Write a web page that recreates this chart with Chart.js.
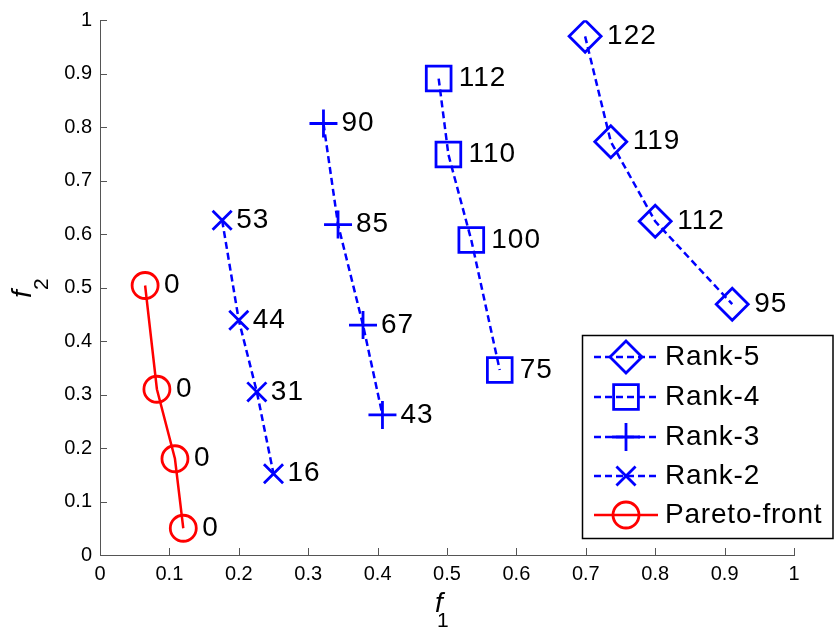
<!DOCTYPE html>
<html>
<head>
<meta charset="utf-8">
<script src="https://cdn.jsdelivr.net/npm/chart.js@4/dist/chart.umd.min.js"></script>
<style>
  html, body { margin: 0; padding: 0; background: #fff; }
  #wrap { width: 834px; height: 632px; }
</style>
</head>
<body>
<div id="wrap"><canvas id="chart" width="834" height="632"></canvas></div>
<script>
// Data
const paretoF1 = [0.065, 0.082, 0.108, 0.120]
const paretoF2 = [0.504, 0.310, 0.180, 0.050]
const paretoTxt = ['0', '0', '0', '0']

const rank2F1 = [0.176, 0.200, 0.226, 0.250]
const rank2F2 = [0.626, 0.439, 0.305, 0.152]
const rank2Txt = ['53', '44', '31', '16']

const rank3F1 = [0.322, 0.343, 0.379, 0.407]
const rank3F2 = [0.807, 0.618, 0.430, 0.262]
const rank3Txt = ['90', '85', '67', '43']

const rank4F1 = [0.488, 0.502, 0.535, 0.576]
const rank4F2 = [0.891, 0.749, 0.589, 0.346]
const rank4Txt = ['112', '110', '100', '75']

const rank5F1 = [0.699, 0.736, 0.800, 0.911]
const rank5F2 = [0.970, 0.773, 0.624, 0.469]
const rank5Txt = ['122', '119', '112', '95']

const tickValues = [0, 0.1, 0.2, 0.3, 0.4, 0.5, 0.6, 0.7, 0.8, 0.9, 1]

const FONT = '"Liberation Sans", Arial, Helvetica, sans-serif'
const BLUE = '#0000ff'
const RED = '#ff0000'
const AXIS = '#555'

function toPoints(xs, ys) {
  return xs.map((x, i) => ({ x: x, y: ys[i] }))
}

function series(label, xs, ys, txt, style, radius, color, dashed, gap) {
  return {
    label: label,
    data: toPoints(xs, ys),
    pointText: txt,
    labelGap: gap,
    showLine: true,
    borderColor: color,
    backgroundColor: 'rgba(0,0,0,0)',
    borderWidth: 2.5,
    borderDash: dashed ? [7, 4] : [],
    pointStyle: style,
    pointRadius: radius,
    pointBorderWidth: 2.8,
    pointBorderColor: color,
    pointBackgroundColor: 'rgba(0,0,0,0)',
  }
}

const datasets = [
  series('Rank-5', rank5F1, rank5F2, rank5Txt, 'rectRot', 16, BLUE, true, 22),
  series('Rank-4', rank4F1, rank4F2, rank4Txt, 'rect', 17.5, BLUE, true, 20),
  series('Rank-3', rank3F1, rank3F2, rank3Txt, 'cross', 14, BLUE, true, 18),
  series('Rank-2', rank2F1, rank2F2, rank2Txt, 'crossRot', 13.5, BLUE, true, 14),
  series('Pareto-front', paretoF1, paretoF2, paretoTxt, 'circle', 13, RED, false, 19),
]

// number labels next to every point
const pointTextPlugin = {
  id: 'pointText',
  afterDatasetsDraw(chart) {
    const ctx = chart.ctx
    ctx.save()
    ctx.font = '28px ' + FONT
    ctx.letterSpacing = '1px'
    ctx.fillStyle = '#000'
    ctx.textAlign = 'left'
    ctx.textBaseline = 'middle'
    chart.data.datasets.forEach((ds, di) => {
      const meta = chart.getDatasetMeta(di)
      meta.data.forEach((pt, i) => {
        ctx.fillText(ds.pointText[i], pt.x + ds.labelGap, pt.y)
      })
    })
    ctx.restore()
  }
}

// inward tick marks, axis titles and the boxed legend
const decorPlugin = {
  id: 'decor',
  afterDraw(chart) {
    const ctx = chart.ctx
    const xs = chart.scales.x
    const ys = chart.scales.y
    const area = chart.chartArea
    ctx.save()
    ctx.strokeStyle = AXIS
    ctx.lineWidth = 1
    tickValues.forEach(v => {
      const px = Math.round(xs.getPixelForValue(v)) + 0.5
      ctx.beginPath()
      ctx.moveTo(px, area.bottom)
      ctx.lineTo(px, area.bottom - 7)
      ctx.stroke()
      const py = Math.round(ys.getPixelForValue(v)) + 0.5
      ctx.beginPath()
      ctx.moveTo(area.left, py)
      ctx.lineTo(area.left + 7, py)
      ctx.stroke()
    })

    // axis titles: italic f with subscript
    ctx.fillStyle = '#000'
    ctx.textBaseline = 'alphabetic'
    ctx.textAlign = 'left'
    ctx.font = 'italic 28px ' + FONT
    ctx.fillText('f', 435, 612)
    ctx.font = '21px ' + FONT
    ctx.fillText('1', 437, 627)

    ctx.save()
    ctx.translate(31, 298)
    ctx.rotate(-Math.PI / 2)
    ctx.font = 'italic 28px ' + FONT
    ctx.fillText('f', 0, 0)
    ctx.font = '21px ' + FONT
    ctx.fillText('2', 8, 17)
    ctx.restore()

    // legend box
    const bx = 582.5, by = 335.5, bw = 250.5, bh = 203
    ctx.fillStyle = '#fff'
    ctx.fillRect(bx, by, bw, bh)
    ctx.strokeStyle = '#000'
    ctx.lineWidth = 1.5
    ctx.strokeRect(bx, by, bw, bh)

    const rowY = [357, 397, 437, 476, 515]
    chart.data.datasets.forEach((ds, i) => {
      const y = rowY[i]
      ctx.strokeStyle = ds.borderColor
      ctx.lineWidth = ds.borderWidth
      ctx.setLineDash(ds.borderDash)
      ctx.beginPath()
      ctx.moveTo(594, y)
      ctx.lineTo(ds.borderDash.length ? 656 : 658, y)
      ctx.stroke()
      ctx.setLineDash([])
      ctx.fillStyle = 'rgba(0,0,0,0)'
      ctx.lineWidth = ds.pointBorderWidth
      Chart.helpers.drawPoint(ctx, {
        pointStyle: ds.pointStyle,
        radius: ds.pointRadius,
        rotation: 0,
        borderWidth: ds.pointBorderWidth,
      }, 626, y)
      ctx.fillStyle = '#000'
      ctx.font = '28px ' + FONT
      ctx.letterSpacing = '0.8px'
      ctx.textBaseline = 'middle'
      ctx.fillText(ds.label, 665, y)
      ctx.letterSpacing = '0px'
    })
    ctx.restore()
  }
}

const axisCommon = {
  type: 'linear',
  min: 0,
  max: 1,
  grid: { display: false, drawTicks: false },
  border: { display: true, color: AXIS, width: 1 },
  ticks: {
    stepSize: 0.1,
    color: '#000',
    font: { family: FONT, size: 20 },
    callback: v => String(Math.round(v * 10) / 10),
  },
}

new Chart(document.getElementById('chart'), {
  type: 'scatter',
  data: { datasets: datasets },
  options: {
    responsive: false,
    animation: false,
    devicePixelRatio: 1,
    layout: { padding: { top: 15, right: 40, left: 0, bottom: 0 } },
    plugins: {
      legend: { display: false },
      tooltip: { enabled: false },
    },
    elements: { line: { tension: 0 } },
    scales: {
      x: Object.assign({}, axisCommon, {
        position: 'bottom',
        ticks: Object.assign({}, axisCommon.ticks, { padding: 7, maxRotation: 0, autoSkip: false }),
        afterFit: s => { s.height = 77 },
      }),
      y: Object.assign({}, axisCommon, {
        position: 'left',
        ticks: Object.assign({}, axisCommon.ticks, { padding: 8, autoSkip: false }),
        afterFit: s => { s.width = 100 },
      }),
    },
  },
  plugins: [pointTextPlugin, decorPlugin],
})
</script>
</body>
</html>
